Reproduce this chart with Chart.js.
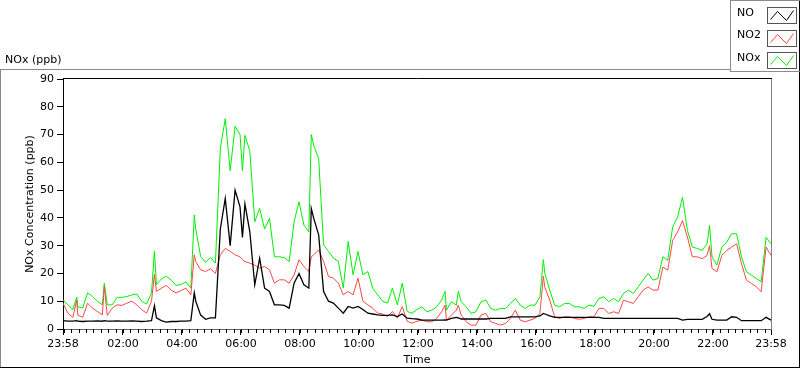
<!DOCTYPE html>
<html>
<head>
<meta charset="utf-8">
<script src="https://cdn.jsdelivr.net/npm/chart.js@4"></script>
<style>
  html, body { margin: 0; padding: 0; background: #fff; }
  #wrap { width: 800px; height: 369px; }
</style>
</head>
<body>
<div id="wrap"><canvas id="chart" width="800" height="369"></canvas></div>
<script>
// minutes since 23:58
const times = [
  0, 10, 20, 28, 30, 40, 50, 60, 70, 80, 84, 90, 100, 110, 120, 130, 140, 150, 160, 170,
  180, 186, 190, 200, 210, 220, 230, 240, 250, 260, 267, 270, 280, 290, 300, 310, 320, 330, 340, 350,
  360, 365, 370, 380, 390, 400, 410, 420, 430, 440, 450, 460, 470, 480, 490, 500, 505, 510, 520, 530,
  540, 550, 560, 570, 580, 590, 600, 610, 620, 630, 640, 650, 660, 670, 680, 690, 700, 710, 720, 730,
  740, 750, 760, 770, 777, 780, 790, 800, 804, 810, 820, 830, 840, 850, 860, 870, 880, 890, 900, 910,
  920, 930, 940, 950, 960, 970, 977, 980, 990, 1000, 1010, 1020, 1030, 1040, 1050, 1060, 1070, 1080, 1090, 1100,
  1110, 1120, 1130, 1140, 1150, 1160, 1170, 1180, 1190, 1200, 1210, 1220, 1230, 1240, 1250, 1260, 1270, 1280, 1290, 1300,
  1310, 1315, 1320, 1330, 1340, 1350, 1360, 1370, 1380, 1390, 1400, 1410, 1420, 1430, 1440
];

const noValues = [
  3, 2.8, 2.8, 3, 2.8, 2.7, 2.8, 2.8, 2.9, 2.8, 3, 2.8, 2.8, 2.9, 2.8, 2.8, 2.9, 2.8, 2.7, 2.8,
  3, 8.4, 4, 3, 2.5, 2.7, 2.7, 2.8, 2.8, 3, 13, 10, 5, 3.5, 4, 4, 36, 47, 30, 50,
  44, 33, 45, 35, 15.9, 25.5, 14.7, 13.5, 8.7, 8.7, 8.5, 7.5, 16.5, 20, 15.9, 14.7, 43.4, 39.8, 33.9, 13.5,
  10, 9.3, 7.5, 5.7, 8.1, 7.5, 8.1, 7, 5.7, 5.4, 5.1, 4.9, 4.9, 5.1, 4.5, 5.4, 3.9, 3.7, 3.6, 3.2,
  3.2, 3.2, 3.2, 3.2, 3.3, 3.2, 3.8, 4.2, 4, 3.6, 3.6, 3.6, 3.6, 3.6, 3.6, 3.8, 3.8, 3.8, 3.8, 4.4,
  4.4, 4.4, 4.4, 4.4, 4.4, 4.7, 5.6, 5.4, 4.7, 4.2, 4.2, 4.2, 4.2, 4.2, 4.2, 4.2, 4.2, 4.2, 4.2, 3.8,
  3.8, 3.8, 3.8, 3.8, 3.8, 3.8, 3.8, 3.8, 3.8, 3.8, 3.8, 3.8, 3.8, 3.8, 3.8, 3.2, 3.5, 3.5, 3.5, 3.5,
  4.5, 5.5, 3.5, 3.2, 3.2, 3.2, 4.4, 4.2, 3, 3, 3, 3, 3, 4.2, 3.2
];

const no2Values = [
  9.3, 5.7, 4.2, 10.4, 5, 4.2, 9.3, 7.5, 6.3, 5.1, 15.3, 4.9, 7.5, 8.7, 8.5, 9.3, 10, 8.7, 7, 5.7,
  10, 19.7, 13.5, 14.7, 15.7, 14, 13, 13.8, 14.7, 12.3, 26.7, 24.3, 21.3, 20.7, 21.7, 20, 26.7, 29, 28, 26.7,
  26, 25, 24.3, 23.7, 23, 21.9, 22.5, 21.3, 16.5, 17.7, 17.7, 16.5, 19.5, 24.9, 22.5, 20.7, 26, 26.7, 28.5, 24.3,
  18.9, 18.3, 16.5, 12.3, 13.5, 12.3, 18.3, 10, 8.7, 7.5, 5.7, 5.4, 4.5, 6.3, 3.9, 8.1, 2.8, 2.1, 2.8, 3.2,
  2.6, 2.6, 3.8, 6.2, 8.6, 3.2, 5, 6.8, 8.6, 5, 2.6, 1.4, 1.4, 5, 5.6, 2.6, 2, 1.4, 2, 3.8,
  6.8, 3.2, 2.6, 3.2, 3.8, 5.6, 19, 15, 10.4, 4.4, 3.8, 4.4, 4.4, 3.8, 3.5, 3.8, 4.4, 4.4, 7.4, 7.4,
  5.6, 6.2, 5.6, 10.4, 9.8, 9.2, 11.6, 14, 15.2, 14, 14, 22.3, 21.2, 31.9, 34.9, 39, 33.1, 26, 26, 25.3,
  26.5, 30, 21.8, 20.6, 26.5, 28.3, 29.5, 30.7, 23.5, 17.6, 16.4, 15.2, 13.4, 29.5, 26.5
];

const noxValues = [
  10.5, 8.7, 7, 11.5, 8, 7.5, 13, 11.7, 10, 8.7, 16.5, 8.7, 8.7, 11.4, 11.4, 11.7, 12.3, 12.6, 10, 9,
  13, 28, 16, 18, 19, 17.7, 15.7, 16, 17, 14.7, 41, 36, 26, 24, 25.7, 23.7, 65, 75.7, 57, 73,
  70, 57, 69.7, 64, 38.6, 43.4, 36, 39.8, 26, 26, 25.7, 24.3, 38.6, 45.8, 37.4, 35, 70, 66, 61.4, 30.3,
  27.9, 25.5, 24.3, 14.7, 31.5, 19.5, 27.9, 19.5, 20.7, 14.7, 12.3, 10, 9.3, 14.7, 8.7, 16.5, 6.3, 5.7, 7, 8,
  6.2, 6.8, 8, 10.4, 13.6, 6.8, 9.8, 8.6, 13.6, 9.8, 8, 5.6, 6.2, 9.8, 10.4, 7.4, 6.8, 7.4, 7.4, 9.2,
  11, 8.6, 7.4, 8.6, 8.6, 11.6, 25, 20, 14, 8.6, 8, 9.2, 9.2, 8, 8, 7.4, 8.6, 8.2, 11, 11.6,
  9.8, 11, 9.8, 12.8, 14, 12.8, 15.2, 17.6, 20, 17.6, 18.2, 26, 24.7, 36.7, 40.3, 47.4, 35.5, 29.5, 29, 28.3,
  30.7, 37.3, 26, 23, 29.5, 31.3, 34.3, 34.3, 26, 20.6, 19.4, 18.2, 17, 33, 30.7
];

const tickValues = [0, 122, 242, 362, 482, 602, 722, 842, 962, 1082, 1202, 1322, 1440];
const tickLabels = ['23:58', '02:00', '04:00', '06:00', '08:00', '10:00', '12:00', '14:00', '16:00', '18:00', '20:00', '22:00', '23:58'];

const seriesNames = ['NO', 'NO2', 'NOx'];
const seriesColors = ['#000000', '#ff4646', '#00f000'];
const seriesValues = [noValues, no2Values, noxValues];

Chart.defaults.font.family = '"DejaVu Sans", sans-serif';
Chart.defaults.font.size = 11;
Chart.defaults.color = '#000';

function line(ctx, x1, y1, x2, y2, color) {
  ctx.strokeStyle = color;
  ctx.lineWidth = 1;
  ctx.beginPath();
  ctx.moveTo(x1, y1);
  ctx.lineTo(x2, y2);
  ctx.stroke();
}

const framePlugin = {
  id: 'frame',
  beforeDraw(chart) {
    const ctx = chart.ctx;
    ctx.save();
    ctx.fillStyle = '#fff';
    ctx.fillRect(0, 0, chart.width, chart.height);
    ctx.restore();
  },
  afterDraw(chart) {
    const ctx = chart.ctx;
    const a = chart.chartArea;
    const xs = chart.scales.x;
    ctx.save();

    // outer frame
    line(ctx, 0, 69.5, 730, 69.5, '#8a8a8a');
    line(ctx, 0.5, 69, 0.5, 368, '#8a8a8a');
    line(ctx, 0, 367.5, 800, 367.5, '#000');
    line(ctx, 799.5, 0, 799.5, 368, '#000');

    // plot box top / right
    line(ctx, a.left, Math.round(a.top) - 0.5, a.right + 1, Math.round(a.top) - 0.5, '#000');
    line(ctx, Math.round(a.right) + 0.5, a.top, Math.round(a.right) + 0.5, a.bottom, '#808080');

    // minor ticks every 15 min
    for (let m = 2; m < 1440; m += 15) {
      const px = Math.round(xs.getPixelForValue(m)) + 0.5;
      line(ctx, px, a.bottom, px, a.bottom + 4, '#000');
    }

    // chart label
    ctx.fillStyle = '#000';
    ctx.font = '11px "DejaVu Sans", sans-serif';
    ctx.textBaseline = 'middle';
    ctx.textAlign = 'left';
    ctx.fillText('NOx (ppb)', 5, 60);

    // legend box
    ctx.fillStyle = '#fff';
    ctx.fillRect(731, 0, 68, 71);
    line(ctx, 730.5, 0, 730.5, 72, '#8a8a8a');
    line(ctx, 730, 0.5, 800, 0.5, '#8a8a8a');
    line(ctx, 730, 71.5, 800, 71.5, '#8a8a8a');
    chart.data.datasets.forEach((ds, i) => {
      const cy = 13 + i * 22.5;
      ctx.fillStyle = '#000';
      ctx.fillText(ds.label, 737, cy);
      const bx = 767.5, by = Math.round(cy - 6) + 0.5, bw = 29, bh = 16;
      ctx.strokeStyle = '#555';
      ctx.strokeRect(bx, by, bw, bh);
      ctx.strokeStyle = ds.borderColor;
      ctx.beginPath();
      ctx.moveTo(bx + 3, by + bh - 4);
      ctx.lineTo(bx + 10, by + 4);
      ctx.lineTo(bx + 19, by + bh - 3);
      ctx.lineTo(bx + 26, by + 3);
      ctx.stroke();
    });

    ctx.restore();
  }
};

const datasets = seriesNames.map((name, k) => ({
  label: name,
  data: times.map((t, i) => ({ x: t, y: seriesValues[k][i] })),
  borderColor: seriesColors[k],
  backgroundColor: seriesColors[k],
  borderWidth: k === 0 ? 1.3 : 1,
  pointRadius: 0,
  tension: 0,
  fill: false
}));

new Chart(document.getElementById('chart'), {
  type: 'line',
  data: { datasets },
  options: {
    responsive: false,
    animation: false,
    devicePixelRatio: 1,
    layout: { padding: { left: 0, top: 79, right: 29, bottom: 0 } },
    plugins: { legend: { display: false }, tooltip: { enabled: false } },
    scales: {
      x: {
        type: 'linear',
        min: 0,
        max: 1440,
        afterBuildTicks: s => { s.ticks = tickValues.map(v => ({ value: v })); },
        afterFit: s => { s.height = 40; },
        ticks: {
          autoSkip: false,
          maxRotation: 0,
          padding: 3,
          color: '#000',
          callback: v => tickLabels[tickValues.indexOf(v)]
        },
        grid: { drawOnChartArea: false, tickLength: 6, tickColor: '#000' },
        border: { color: '#666' },
        title: { display: true, text: 'Time', color: '#000', padding: { top: 0, bottom: 2 } }
      },
      y: {
        min: 0,
        max: 90,
        afterFit: s => { s.width = 63; },
        ticks: { stepSize: 10, padding: 3, color: '#000' },
        grid: { drawOnChartArea: false, tickLength: 6, tickColor: '#000' },
        border: { color: '#000' },
        title: { display: true, text: 'NOx Concentration (ppb)', color: '#000', padding: { top: 24, bottom: 0 } }
      }
    }
  },
  plugins: [framePlugin]
});
</script>
</body>
</html>
